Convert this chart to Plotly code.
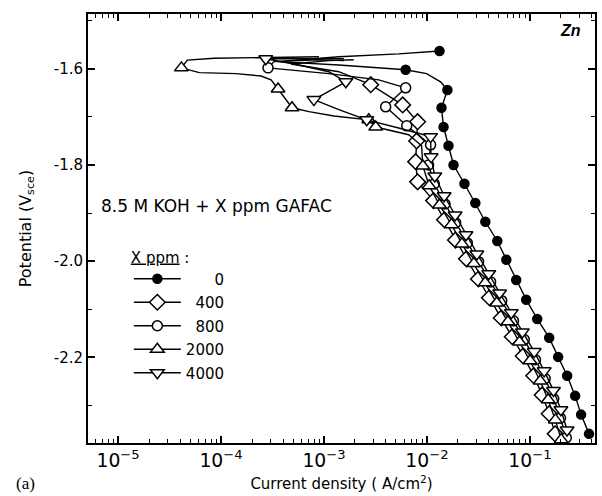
import plotly.graph_objects as go

# ---- data: current density (A/cm2) and potential (V vs SCE) ----
series_names = ["0", "400", "800", "2000", "4000"]

i_0 = [0.01324, 0.00531, 0.001393, 0.000350, 0.001393, 0.0034, 0.00621, 0.00991, 0.01355, 0.0158,
       0.01384, 0.01449, 0.01619, 0.01811, 0.02313, 0.0295, 0.0369, 0.0482, 0.0590, 0.0736,
       0.0920, 0.1177, 0.1538, 0.188, 0.230, 0.275, 0.314, 0.375]
e_0 = [-1.563, -1.569, -1.575, -1.585, -1.592, -1.598, -1.602, -1.610, -1.627, -1.644,
       -1.681, -1.721, -1.760, -1.800, -1.839, -1.879, -1.918, -1.958, -1.997, -2.039,
       -2.080, -2.120, -2.159, -2.199, -2.238, -2.280, -2.319, -2.359]
marked_0 = [0, 6] + list(range(9, 28))

i_400 = [0.001946, 0.001114, 0.000478, 0.001393, 0.002844, 0.005808, 0.00811, 0.00794, 0.00776, 0.00811,
         0.01159, 0.01480, 0.01892, 0.02417, 0.0316, 0.0404, 0.0527, 0.0674, 0.0861, 0.1089,
         0.1315, 0.1538, 0.1758]
e_400 = [-1.581, -1.583, -1.590, -1.606, -1.633, -1.675, -1.710, -1.750, -1.793, -1.835,
         -1.874, -1.914, -1.956, -1.995, -2.037, -2.076, -2.118, -2.157, -2.197, -2.238,
         -2.278, -2.317, -2.359]
marked_400 = list(range(4, 23))

i_800 = [0.00156, 0.000893, 0.000327, 0.000286, 0.001114, 0.0034, 0.00621, 0.003972, 0.00636, 0.01084,
         0.01036, 0.01178, 0.01497, 0.01901, 0.02466, 0.0317, 0.0415, 0.0532, 0.0692, 0.0881,
         0.1132, 0.1406, 0.1703, 0.198, 0.2254]
e_800 = [-1.583, -1.581, -1.585, -1.598, -1.610, -1.623, -1.6395, -1.679, -1.7185, -1.758,
         -1.800, -1.839, -1.881, -1.920, -1.962, -2.001, -2.043, -2.082, -2.124, -2.163,
         -2.205, -2.244, -2.286, -2.326, -2.367]
marked_800 = [3] + list(range(6, 25))

i_2000 = [0.000893, 0.0002506, 8.59e-5, 4.71e-5, 4.12e-5, 6.15e-5, 0.0001403, 0.000245, 0.000306, 0.000358,
          0.000489, 0.000714, 0.001247, 0.002723, 0.003179, 0.00664, 0.00887, 0.00912, 0.01050, 0.01324,
          0.01730, 0.02186, 0.02851, 0.03675, 0.04762, 0.0611, 0.0791, 0.1002, 0.1259, 0.1503,
          0.1766, 0.2009]
e_2000 = [-1.575, -1.576, -1.578, -1.582, -1.598, -1.608, -1.610, -1.615, -1.623, -1.642,
          -1.681, -1.689, -1.698, -1.706, -1.721, -1.737, -1.760, -1.802, -1.843, -1.883,
          -1.924, -1.964, -2.005, -2.045, -2.087, -2.126, -2.168, -2.207, -2.249, -2.288,
          -2.330, -2.371]
marked_2000 = [4, 9, 10, 13, 14] + list(range(17, 32))

i_4000 = [0.00156, 0.000272, 0.000571, 0.001114, 0.00163, 0.000798, 0.001393, 0.0026, 0.00531, 0.01084,
          0.01096, 0.01192, 0.01469, 0.01876, 0.02393, 0.0305, 0.0398, 0.0508, 0.0659, 0.0845,
          0.1101, 0.1375, 0.1694, 0.2000, 0.2296]
e_4000 = [-1.579, -1.579, -1.592, -1.606, -1.627, -1.664, -1.685, -1.706, -1.723, -1.741,
          -1.783, -1.823, -1.864, -1.904, -1.945, -1.985, -2.026, -2.066, -2.107, -2.147,
          -2.188, -2.228, -2.269, -2.309, -2.351]
marked_4000 = [1, 4, 5, 7] + list(range(9, 25))

y_tick_vals = [-2.2, -2.0, -1.8, -1.6]
y_tick_text = ["-2.2", "-2.0", "-1.8", "-1.6"]

# ---- styling ----
FONT = "DejaVu Sans"
styles = [
    dict(symbol="circle", size=9, color="black"),
    dict(symbol="diamond", size=12, color="white"),
    dict(symbol="circle", size=10, color="white"),
    dict(symbol="triangle-up", size=12, color="white"),
    dict(symbol="triangle-down", size=12, color="white"),
]
data = [(i_0, e_0, marked_0), (i_400, e_400, marked_400), (i_800, e_800, marked_800),
        (i_2000, e_2000, marked_2000), (i_4000, e_4000, marked_4000)]

fig = go.Figure()
for name, (ii, ee, mk), st in zip(series_names, data, styles):
    marker = dict(symbol=st["symbol"], size=st["size"], color=st["color"],
                  line=dict(color="black", width=1.5))
    fig.add_trace(go.Scatter(x=ii, y=ee, mode="lines", line=dict(color="black", width=1.4),
                             showlegend=False, hoverinfo="skip"))
    fig.add_trace(go.Scatter(x=[ii[k] for k in mk], y=[ee[k] for k in mk], mode="markers",
                             marker=marker, showlegend=False, name=name))
    pad = "\u00a0" * (2 * (4 - len(name)))
    fig.add_trace(go.Scatter(x=[None], y=[None], mode="lines+markers", name=pad + name,
                             legendgroup=name, marker=marker,
                             line=dict(color="black", width=1.4)))

W, H = 602, 496
L, R, T, B = 88, 5, 14, 53
pw, ph = W - L - R, H - T - B


def px(x):
    return (x - L) / pw


def py(y):
    return (H - B - y) / ph


fig.update_layout(
    width=W, height=H, autosize=False,
    margin=dict(l=L, r=R, t=T, b=B),
    paper_bgcolor="white", plot_bgcolor="white",
    font=dict(family=FONT, size=15, color="black"),
    xaxis=dict(
        type="log", range=[-5.292, -0.368],
        dtick=1, exponentformat="power",
        showline=True, linecolor="black", linewidth=2, mirror="ticks",
        ticks="inside", ticklen=7, tickwidth=1.5, tickcolor="black",
        minor=dict(ticks="inside", ticklen=4, tickwidth=1.2, tickcolor="black", dtick="D1"),
        showgrid=False, zeroline=False,
        tickfont=dict(family=FONT, size=15),
        title=dict(text="Current density ( A/cm<sup>2</sup>)", font=dict(family=FONT, size=15), standoff=9),
    ),
    yaxis=dict(
        range=[-2.378, -1.486],
        tickvals=y_tick_vals, ticktext=y_tick_text,
        showline=True, linecolor="black", linewidth=2, mirror="ticks",
        ticks="inside", ticklen=7, tickwidth=1.5, tickcolor="black",
        minor=dict(ticks="inside", ticklen=4, tickwidth=1.2, tickcolor="black", dtick=0.1),
        showgrid=False, zeroline=False,
        tickfont=dict(family=FONT, size=15),
        title=dict(text="Potential (V<sub>sce</sub>)", font=dict(family=FONT, size=16), standoff=18),
    ),
    legend=dict(
        x=px(129), y=py(243), xanchor="left", yanchor="top",
        bgcolor="rgba(0,0,0,0)", borderwidth=0,
        font=dict(family=FONT, size=15),
        title=dict(text="<u>X ppm</u> :", font=dict(family=FONT, size=15)),
        tracegroupgap=1, itemwidth=47,
    ),
    annotations=[
        dict(text="8.5 M KOH + X ppm GAFAC", x=px(99), y=py(206), xref="paper", yref="paper",
             xanchor="left", yanchor="middle", showarrow=False, font=dict(family=FONT, size=17)),
        dict(text="<b><i>Zn</i></b>", x=px(572), y=py(31), xref="paper", yref="paper",
             xanchor="center", yanchor="middle", showarrow=False,
             font=dict(family="Liberation Sans", size=16)),
        dict(text="(a)", x=px(14), y=py(483), xref="paper", yref="paper",
             xanchor="left", yanchor="middle", showarrow=False,
             font=dict(family="Liberation Serif", size=17)),
    ],
)

fig.write_html("out.html", config={"displayModeBar": False},
               post_script="document.body.style.margin='0px';")
